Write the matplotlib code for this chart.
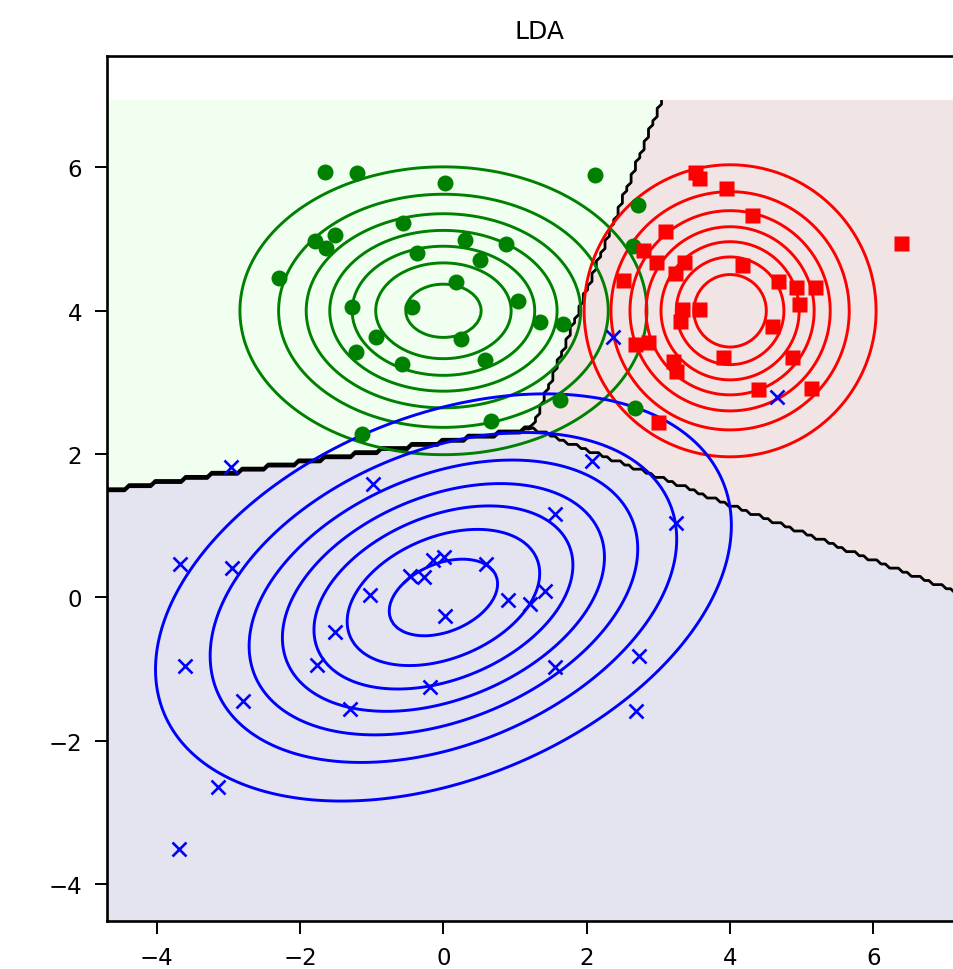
import numpy as np
import matplotlib
matplotlib.use('Agg')
import matplotlib.pyplot as plt

# sample points
green_x = [-1.65, -1.21, 0.02, 2.11, 2.72, -2.29, -1.79, -1.64, -1.51, -0.57,
           0.30, 0.88, -0.37, 0.51, 2.64, 0.18, -1.27, -0.44, 1.04, 1.35,
           1.67, -0.94, 0.25, -1.22, -0.58, 0.58, 1.62, 2.67, 0.67, -1.14]
green_y = [5.94, 5.92, 5.79, 5.89, 5.48, 4.46, 4.97, 4.88, 5.06, 5.22,
           4.99, 4.93, 4.80, 4.71, 4.90, 4.40, 4.05, 4.05, 4.13, 3.84,
           3.81, 3.64, 3.60, 3.43, 3.26, 3.32, 2.76, 2.65, 2.46, 2.28]

red_x = [3.51, 3.57, 3.94, 4.30, 6.38, 3.09, 2.78, 2.97, 3.36, 3.23,
         4.17, 2.51, 4.67, 4.92, 5.19, 4.96, 3.33, 3.56, 3.30, 4.58,
         2.67, 2.86, 3.90, 4.87, 3.21, 3.25, 4.39, 5.13, 3.00]
red_y = [5.93, 5.85, 5.72, 5.33, 4.94, 5.12, 4.85, 4.68, 4.68, 4.53,
         4.64, 4.43, 4.41, 4.33, 4.33, 4.09, 4.03, 4.02, 3.86, 3.79,
         3.53, 3.56, 3.35, 3.35, 3.30, 3.16, 2.91, 2.92, 2.45]

blue_x = [-2.97, -0.98, -3.68, -2.95, 0.01, -0.14, 0.60, -0.47, -0.27, -1.02,
          0.90, 1.21, 1.42, 0.02, 2.37, 4.65, 2.07, 3.24, 1.56, -3.61,
          -2.79, -3.14, -1.52, -1.77, -1.31, -0.19, -3.69, 1.56, 2.73, 2.69]
blue_y = [1.82, 1.58, 0.47, 0.41, 0.56, 0.52, 0.46, 0.30, 0.28, 0.03,
          -0.04, -0.09, 0.09, -0.26, 3.63, 2.80, 1.91, 1.04, 1.17, -0.96,
          -1.45, -2.64, -0.48, -0.94, -1.56, -1.25, -3.51, -0.97, -0.81, -1.59]

# true class distributions (for the density contours)
means = [[0, 4], [4, 4], [0, 0]]
covs = [[[2, 0], [0, 1]],
        [[1, 0], [0, 1]],
        [[4, 1], [1, 2]]]

line_colors = ['green', 'red', 'blue']
bg_colors = ['#f1fff1', '#f0e4e4', '#e4e4f0']

X = np.column_stack([green_x + red_x + blue_x, green_y + red_y + blue_y])
lab = np.array([0] * len(green_x) + [1] * len(red_x) + [2] * len(blue_x))

# LDA fit (pooled covariance)
n_cls = 3
mu = np.array([X[lab == k].mean(axis=0) for k in range(n_cls)])
pri = np.array([(lab == k).mean() for k in range(n_cls)])
Sw = sum((X[lab == k] - mu[k]).T @ (X[lab == k] - mu[k]) for k in range(n_cls))
Sw = Sw / (len(X) - n_cls)
Si = np.linalg.inv(Sw)

x_min, x_max = X[:, 0].min() - 1, X[:, 0].max() + 1
y_min, y_max = X[:, 1].min() - 1, X[:, 1].max() + 1
xx, yy = np.meshgrid(np.linspace(x_min, x_max, 200), np.linspace(y_min, y_max, 200))
grid = np.column_stack([xx.ravel(), yy.ravel()])

scores = grid @ Si @ mu.T - 0.5 * np.sum(mu @ Si * mu, axis=1) + np.log(pri)
Z = scores.argmax(axis=1).reshape(xx.shape)

fig = plt.figure(figsize=(9.54, 9.70), dpi=100)
ax = fig.add_axes([0.1125, 0.0498, 0.9067, 0.8918])

ax.contourf(xx, yy, Z, levels=[-0.5, 0.5, 1.5, 2.5], colors=bg_colors)
ax.contour(xx, yy, Z, levels=[0.5, 1.5], colors='k', linewidths=2.0)

for k in range(n_cls):
    d = grid - np.array(means[k])
    ci = np.linalg.inv(covs[k])
    pdf = np.exp(-0.5 * np.sum(d @ ci * d, axis=1)) / (2 * np.pi * np.sqrt(np.linalg.det(covs[k])))
    ax.contour(xx, yy, pdf.reshape(xx.shape), colors=line_colors[k], linewidths=2.1)

ax.plot(green_x, green_y, 'o', color='green', ms=11.5, mec='none')
ax.plot(red_x, red_y, 's', color='red', ms=10.8, mec='none')
ax.plot(blue_x, blue_y, 'x', color='blue', ms=10.5, mew=1.9)

ax.set_xlim(x_min, x_max)
ax.set_ylim(y_min, y_min + (x_max - x_min))
ax.set_xticks([-4, -2, 0, 2, 4, 6])
ax.set_yticks([-4, -2, 0, 2, 4, 6])
ax.tick_params(labelsize=16.5, length=9, width=1.4, pad=9)
for s in ax.spines.values():
    s.set_linewidth(1.9)
ax.set_title('LDA', fontsize=18, pad=13)

fig.savefig('out.png', dpi=100)
